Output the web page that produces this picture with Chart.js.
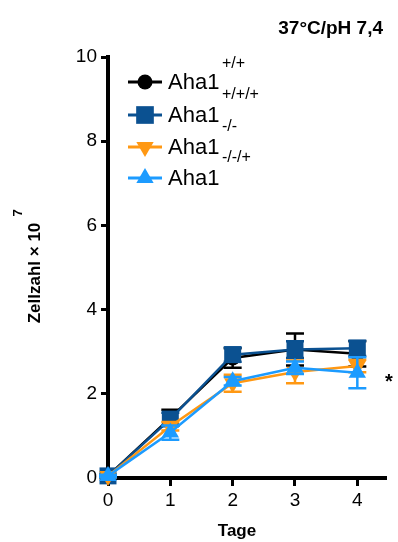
<!DOCTYPE html>
<html>
<head>
<meta charset="utf-8">
<script src="https://cdn.jsdelivr.net/npm/chart.js@4.4.1/dist/chart.umd.min.js"></script>
<style>
  html, body { margin: 0; padding: 0; background: #fff; }
  #wrap { width: 398px; height: 542px; }
</style>
</head>
<body>
<div id="wrap"><canvas id="chart" width="398" height="542"></canvas></div>
<script>
const days = [0, 1, 2, 3, 4]
const seriesNames = ["Aha1", "Aha1", "Aha1", "Aha1"]
const superscripts = ["+/+", "+/+/+", "-/-", "-/-/+"]

const wtMean = [0.05, 1.43, 2.85, 3.05, 2.95]
const wtErr = [0.03, 0.19, 0.23, 0.38, 0.3]
const wtPlusMean = [0.05, 1.4, 2.93, 3.05, 3.08]
const wtPlusErr = [0.03, 0.15, 0.17, 0.2, 0.18]
const koMean = [0.05, 1.23, 2.25, 2.52, 2.66]
const koErr = [0.03, 0.1, 0.2, 0.27, 0.15]
const koPlusMean = [0.05, 1.08, 2.3, 2.62, 2.5]
const koPlusErr = [0.03, 0.17, 0.1, 0.15, 0.37]

const yTicks = [0, 2, 4, 6, 8, 10]
const FONT = "'Liberation Sans', Arial, sans-serif"

const toPoints = (vals, errs) => vals.map((v, i) => ({x: days[i], y: v, err: errs[i]}))

const errorBars = {
    id: 'errorBars',
    beforeDatasetDraw(chart, args) {
        const ds = chart.data.datasets[args.index]
        const ctx = chart.ctx
        const ys = chart.scales.y
        ctx.save()
        ctx.strokeStyle = ds.borderColor
        ctx.lineWidth = 2.5
        args.meta.data.forEach((pt, i) => {
            const d = ds.data[i]
            const top = ys.getPixelForValue(d.y + d.err)
            const bot = ys.getPixelForValue(d.y - d.err)
            ctx.beginPath()
            ctx.moveTo(pt.x, top); ctx.lineTo(pt.x, bot)
            ctx.moveTo(pt.x - 9, top); ctx.lineTo(pt.x + 9, top)
            ctx.moveTo(pt.x - 9, bot); ctx.lineTo(pt.x + 9, bot)
            ctx.stroke()
        })
        ctx.restore()
    }
}

const decorations = {
    id: 'decorations',
    afterDraw(chart) {
        const ctx = chart.ctx
        ctx.save()
        ctx.fillStyle = '#000'
        // title
        ctx.font = "bold 19px " + FONT
        ctx.textAlign = 'right'
        ctx.textBaseline = 'middle'
        ctx.fillText("37°C/pH 7,4", 383, 29)
        // x title
        ctx.textAlign = 'center'
        ctx.font = "bold 17px " + FONT
        ctx.fillText("Tage", 237, 531)
        // y title
        ctx.save()
        ctx.translate(35, 273)
        ctx.rotate(-Math.PI / 2)
        ctx.font = "bold 17px " + FONT
        ctx.fillText("Zellzahl × 10", 0, 0)
        ctx.restore()
        ctx.save()
        ctx.translate(18, 213)
        ctx.rotate(-Math.PI / 2)
        ctx.font = "bold 13px " + FONT
        ctx.fillText("7", 0, 0)
        ctx.restore()
        // asterisk
        ctx.font = "bold 20px " + FONT
        ctx.fillText("*", 389, 382)

        // legend
        const rows = [82, 115, 147, 178]
        const supY = [64, 95, 127, 158]
        chart.data.datasets.forEach((ds, i) => {
            const y = rows[i]
            ctx.strokeStyle = ds.borderColor
            ctx.lineWidth = 3
            ctx.beginPath()
            ctx.moveTo(128, y); ctx.lineTo(162, y)
            ctx.stroke()
            ctx.fillStyle = ds.backgroundColor
            Chart.helpers.drawPoint(ctx, {
                pointStyle: ds.pointStyle,
                rotation: ds.pointRotation || 0,
                radius: ds.legendRadius,
                borderWidth: 0
            }, 145, y)
            ctx.fillStyle = '#000'
            ctx.textAlign = 'left'
            ctx.font = "22px " + FONT
            ctx.fillText(seriesNames[i], 168, y + 1)
            ctx.font = "16px " + FONT
            ctx.fillText(superscripts[i], 222, supY[i])
        })
        ctx.restore()
    }
}

const mkSet = (label, data, color, style, radius, legendRadius, rot, order) => ({
    label: label,
    data: data,
    borderColor: color,
    backgroundColor: color,
    borderWidth: 2.5,
    pointStyle: style,
    pointRadius: radius,
    pointRotation: rot,
    pointBorderWidth: 0,
    legendRadius: legendRadius,
    order: order,
    clip: false
})

new Chart(document.getElementById('chart'), {
    type: 'line',
    data: {
        datasets: [
            mkSet('Aha1 +/+', toPoints(wtMean, wtErr), '#000000', 'circle', 7.5, 7.5, 0, 4),
            mkSet('Aha1 +/+/+', toPoints(wtPlusMean, wtPlusErr), '#0b5191', 'rect', 12, 12.5, 0, 3),
            mkSet('Aha1 -/-', toPoints(koMean, koErr), '#ff9813', 'triangle', 10, 10, 180, 2),
            mkSet('Aha1 -/-/+', toPoints(koPlusMean, koPlusErr), '#1c9bff', 'triangle', 10, 10, 0, 1)
        ]
    },
    options: {
        responsive: false,
        animation: false,
        layout: {padding: {top: 57, left: 0, right: 0, bottom: 0}},
        plugins: {legend: {display: false}, tooltip: {enabled: false}},
        scales: {
            x: {
                type: 'linear',
                min: 0,
                max: 4.46,
                afterFit: (s) => { s.height = 64 },
                afterBuildTicks: (s) => { s.ticks = days.map(v => ({value: v})) },
                grid: {drawOnChartArea: false, drawTicks: true, tickLength: 8, tickWidth: 3, tickColor: '#000'},
                border: {width: 4, color: '#000'},
                ticks: {color: '#000', font: {family: FONT, size: 19}, padding: 3, maxRotation: 0}
            },
            y: {
                min: 0,
                max: 10,
                afterFit: (s) => { s.width = 108 },
                afterBuildTicks: (s) => { s.ticks = yTicks.map(v => ({value: v})) },
                grid: {drawOnChartArea: false, drawTicks: true, tickLength: 7, tickWidth: 3, tickColor: '#000'},
                border: {width: 4, color: '#000'},
                ticks: {color: '#000', font: {family: FONT, size: 19}, padding: 4}
            }
        }
    },
    plugins: [errorBars, decorations]
})
</script>
</body>
</html>
